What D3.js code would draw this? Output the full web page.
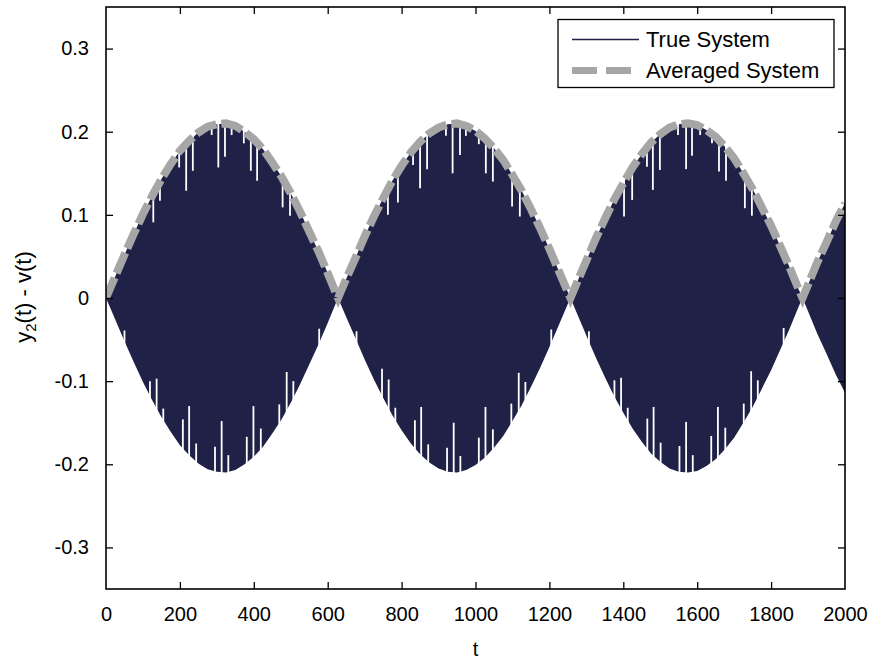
<!DOCTYPE html>
<html>
<head>
<meta charset="utf-8">
<script src="https://cdn.jsdelivr.net/npm/d3@7"></script>
<style>
  html, body { margin: 0; padding: 0; background: #fff; }
  svg { display: block; }
  text { font-family: "Liberation Sans", Arial, Helvetica, sans-serif; fill: #000; }
</style>
</head>
<body>
<svg id="chart" width="871" height="665"></svg>
<script>
// ---------- data ----------
const tValues = [0,25,50,75,100,125,150,175,200,225,250,275,300,325,350,375,400,425,450,475,500,525,550,575,600,625,628,
  650,675,700,725,750,775,800,825,850,875,900,925,950,975,1000,1025,1050,1075,1100,1125,1150,1175,1200,1225,1250,1257,
  1275,1300,1325,1350,1375,1400,1425,1450,1475,1500,1525,1550,1575,1600,1625,1650,1675,1700,1725,1750,1775,1800,1825,1850,1875,1885,
  1900,1925,1950,1975,2000];
// amplitude of the averaged system (also the envelope of the true system)
const averagedValues = [0,.026,.052,.077,.101,.123,.143,.161,.177,.189,.199,.206,.209,.210,.207,.200,.191,.179,.163,.146,.126,.104,.080,.056,.030,.003,0,
  .023,.048,.074,.098,.120,.141,.159,.175,.188,.198,.205,.209,.210,.207,.201,.192,.180,.166,.148,.129,.107,.084,.059,.033,.007,0,
  .019,.045,.071,.095,.118,.138,.157,.173,.187,.197,.205,.209,.210,.208,.202,.194,.182,.168,.150,.131,.109,.087,.062,.037,.010,0,
  .016,.043,.067,.092,.114];
// true system: fast oscillation filling +/- envelope
const trueUpper = averagedValues;
const trueLower = averagedValues.map(v => -v);
// white gaps (peaks of the fast oscillation that fall short of the envelope)
const gapTopT = [128,146,198,217,235,286,304,322,340,373,392,409,478,498,
  763,790,831,850,869,920,938,958,974,1009,1028,1047,1099,1120,
  1402,1424,1464,1480,1499,1548,1570,1586,1608,1640,1659,1678,1729,1748];
const gapTopV = [.091,.117,.157,.129,.153,.196,.157,.170,.196,.186,.153,.141,.109,.099,
  .100,.115,.160,.132,.155,.195,.150,.172,.195,.185,.150,.140,.110,.098,
  .098,.118,.158,.130,.154,.196,.155,.171,.196,.186,.152,.141,.108,.099];
const gapBotT = [50,119,137,155,208,225,244,295,313,331,381,399,419,469,489,507,577,
  678,747,765,783,836,853,872,923,941,959,1009,1027,1047,1097,1117,1135,1205,
  1307,1376,1394,1412,1465,1482,1501,1552,1570,1588,1638,1656,1676,1726,1746,1764,1834];
const gapBotV = [-.039,-.100,-.097,-.133,-.146,-.130,-.175,-.179,-.148,-.189,-.167,-.130,-.157,-.128,-.089,-.100,-.037,
  -.040,-.085,-.098,-.132,-.147,-.131,-.176,-.180,-.150,-.190,-.168,-.131,-.158,-.127,-.090,-.101,-.038,
  -.040,-.099,-.096,-.132,-.145,-.131,-.174,-.178,-.149,-.189,-.166,-.131,-.156,-.127,-.088,-.099,-.036];
const xTicks = [0,200,400,600,800,1000,1200,1400,1600,1800,2000];
const yTicks = [-0.3,-0.2,-0.1,0,0.1,0.2,0.3];
const seriesNames = ["True System", "Averaged System"];

// ---------- layout ----------
const svg = d3.select("#chart");
const L = 106, R = 845, T = 7, B = 589;
const x = d3.scaleLinear().domain([0, 2000]).range([L, R]);
const y = d3.scaleLinear().domain([-0.35, 0.35]).range([B, T]);
const navy = "#1f2147", gray = "#a6a6a6";

svg.append("defs").append("clipPath").attr("id", "clip")
  .append("rect").attr("x", L).attr("y", T).attr("width", R - L).attr("height", B - T);
const plot = svg.append("g").attr("clip-path", "url(#clip)");

const idx = d3.range(tValues.length);
// true system (dense oscillation -> filled band)
plot.append("path")
  .attr("fill", navy)
  .attr("d", d3.area().x(i => x(tValues[i])).y0(i => y(trueLower[i])).y1(i => y(trueUpper[i]))(idx));

// white gaps
gapTopT.forEach((t, i) => {
  plot.append("line").attr("x1", x(t)).attr("x2", x(t)).attr("y1", y(gapTopV[i])).attr("y2", y(0.35))
    .attr("stroke", "#fff").attr("stroke-width", 1.8);
});
gapBotT.forEach((t, i) => {
  plot.append("line").attr("x1", x(t)).attr("x2", x(t)).attr("y1", y(gapBotV[i])).attr("y2", y(-0.35))
    .attr("stroke", "#fff").attr("stroke-width", 1.8);
});

// averaged system
plot.append("path")
  .attr("fill", "none").attr("stroke", gray).attr("stroke-width", 8)
  .attr("stroke-dasharray", "22,5")
  .attr("d", d3.line().x(i => x(tValues[i])).y(i => y(averagedValues[i]))(idx));

// ---------- axes ----------
const tickLen = 7;
const fs = 20;
const fmtY = d => d === 0 ? "0" : d3.format(".1f")(d).replace("\u2212", "-");
const axB = svg.append("g").attr("transform", `translate(0,${B})`)
  .call(d3.axisBottom(x).tickValues(xTicks).tickSize(-tickLen).tickPadding(18).tickFormat(d3.format("d")));
const axT = svg.append("g").attr("transform", `translate(0,${T})`)
  .call(d3.axisTop(x).tickValues(xTicks).tickSize(-tickLen).tickFormat(""));
const axL = svg.append("g").attr("transform", `translate(${L},0)`)
  .call(d3.axisLeft(y).tickValues(yTicks).tickSize(-tickLen).tickPadding(17).tickFormat(fmtY));
const axR = svg.append("g").attr("transform", `translate(${R},0)`)
  .call(d3.axisRight(y).tickValues(yTicks).tickSize(-tickLen).tickFormat(""));
[axB, axT, axL, axR].forEach(a => {
  a.select(".domain").remove();
  a.selectAll(".tick line").attr("stroke", "#000").attr("stroke-width", 1.3);
  a.selectAll("text").attr("font-size", fs).attr("font-family", '"Liberation Sans", Arial, sans-serif').attr("fill", "#000");
});
axB.selectAll(".tick line").filter(d => d === 0 || d === 2000).remove();
axT.selectAll(".tick line").filter(d => d === 0 || d === 2000).remove();

svg.append("rect").attr("x", L).attr("y", T).attr("width", R - L).attr("height", B - T)
  .attr("fill", "none").attr("stroke", "#000").attr("stroke-width", 1.6);

// axis labels
svg.append("text").attr("x", x(1000)).attr("y", 656).attr("text-anchor", "middle")
  .attr("font-size", fs).text("t");
const yl = svg.append("text").attr("transform", "translate(31,297) rotate(-90)")
  .attr("text-anchor", "middle").attr("font-size", 22);
yl.append("tspan").text("y");
yl.append("tspan").attr("font-size", 15).attr("dy", 5).text("2");
yl.append("tspan").attr("dy", -5).text("(t) - v(t)");

// ---------- legend ----------
const lg = svg.append("g");
lg.append("rect").attr("x", 558).attr("y", 19.5).attr("width", 276).attr("height", 68)
  .attr("fill", "#fff").attr("stroke", "#000").attr("stroke-width", 1.3);
lg.append("line").attr("x1", 572).attr("x2", 639).attr("y1", 39.5).attr("y2", 39.5)
  .attr("stroke", navy).attr("stroke-width", 1.5);
lg.append("line").attr("x1", 572).attr("x2", 632).attr("y1", 70.5).attr("y2", 70.5)
  .attr("stroke", gray).attr("stroke-width", 7).attr("stroke-dasharray", "25,9");
lg.append("text").attr("x", 646).attr("y", 47).attr("font-size", 22).text(seriesNames[0]);
lg.append("text").attr("x", 646).attr("y", 78).attr("font-size", 22).text(seriesNames[1]);
</script>
</body>
</html>
